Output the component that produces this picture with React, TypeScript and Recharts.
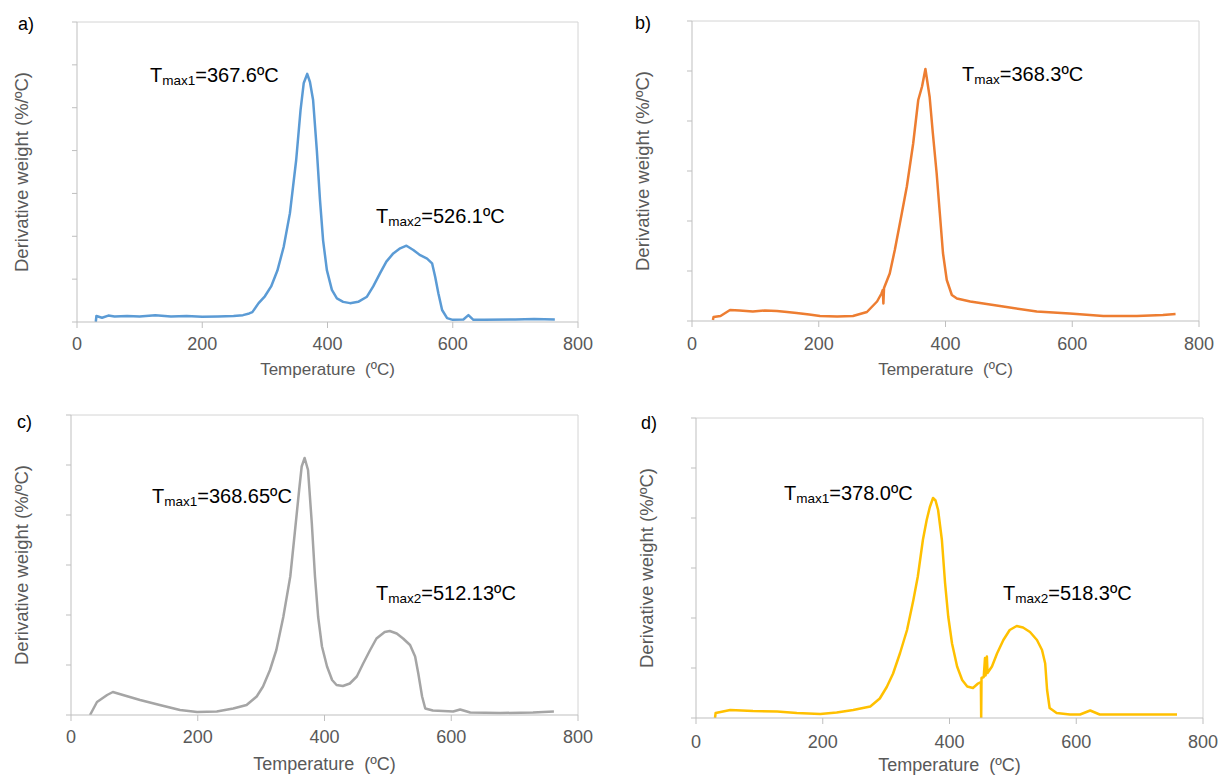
import React from 'react';
import { LineChart, Line, XAxis, YAxis, ReferenceLine } from 'recharts';

const FONT = '"Liberation Sans", Arial, Helvetica, sans-serif';
const AX = '#bfbfbf';
const BORDER = '#d4d4d4';
const TXT = '#595959';

const xTicks = [0, 200, 400, 600, 800];
const xTitle = 'Temperature\u00A0 (ºC)';
const yTitle = 'Derivative weight (%/ºC)';

// a) blue
const aTemp = [30, 31, 40, 50, 60, 80, 100, 125, 150, 175, 200, 225, 250, 265, 275, 280, 290, 300, 310, 320, 330, 340, 350, 357, 362, 367.6, 372, 377, 383, 388, 393, 399, 407, 415, 425, 436, 449, 463, 473, 484, 494, 505, 516, 526.1, 537, 548, 559, 567, 572, 577, 583, 591, 600, 617, 625, 633, 650, 700, 730, 763];
const aDeriv = [0, 0.14, 0.1, 0.15, 0.13, 0.14, 0.13, 0.16, 0.13, 0.14, 0.12, 0.13, 0.14, 0.16, 0.2, 0.23, 0.44, 0.6, 0.83, 1.2, 1.75, 2.54, 3.78, 4.95, 5.57, 5.79, 5.6, 5.18, 4.0, 2.85, 1.9, 1.21, 0.75, 0.55, 0.47, 0.44, 0.47, 0.59, 0.83, 1.14, 1.41, 1.6, 1.72, 1.78, 1.68, 1.56, 1.48, 1.37, 1.05, 0.67, 0.28, 0.09, 0.05, 0.06, 0.16, 0.05, 0.05, 0.06, 0.07, 0.06];

// b) orange
const bTemp = [33, 34, 45, 60, 75, 96, 115, 134, 150, 165, 185, 202, 229, 254, 276, 292, 299, 301, 302, 303, 312, 320, 331, 339, 349, 357, 363, 368.3, 375, 380, 386, 391, 396, 402, 410, 418, 439, 491, 544, 596, 649, 702, 743, 763];
const bDeriv = [0.02, 0.08, 0.1, 0.22, 0.21, 0.19, 0.21, 0.2, 0.18, 0.16, 0.13, 0.1, 0.09, 0.1, 0.18, 0.39, 0.55, 0.62, 0.35, 0.66, 0.95, 1.42, 2.15, 2.69, 3.55, 4.42, 4.69, 5.04, 4.48, 3.76, 2.96, 2.16, 1.36, 0.82, 0.52, 0.45, 0.39, 0.29, 0.19, 0.15, 0.1, 0.1, 0.12, 0.14];

// c) grey
const cTemp = [30, 41, 57, 66, 82, 109, 140, 172, 199, 230, 256, 277, 293, 303, 314, 324, 335, 346, 353, 360, 364, 368.65, 374, 380, 385, 390, 396, 404, 412, 419, 429, 440, 451, 461, 472, 482, 495, 503, 514, 524, 535, 543, 548, 554, 559, 571, 603, 614, 630, 677, 729, 762];
const cDeriv = [0, 0.26, 0.4, 0.46, 0.4, 0.3, 0.2, 0.1, 0.06, 0.07, 0.13, 0.2, 0.37, 0.57, 0.9, 1.3, 1.96, 2.77, 3.63, 4.5, 4.97, 5.14, 4.9, 3.83, 2.77, 1.96, 1.37, 0.97, 0.7, 0.6, 0.58, 0.63, 0.77, 1.03, 1.3, 1.53, 1.66, 1.68, 1.63, 1.53, 1.4, 1.17, 0.83, 0.37, 0.13, 0.09, 0.07, 0.11, 0.05, 0.04, 0.05, 0.07];

// d) gold
const dTemp = [30, 31, 54, 90, 128, 159, 196, 222, 248, 275, 290, 301, 311, 322, 333, 343, 350, 358, 364, 369, 374, 378, 382, 388, 393, 398, 404, 412, 420, 428, 437, 445, 449.5, 450, 450.5, 454, 456, 457, 459, 460, 467, 475, 485, 495, 506, 516, 527, 538, 546, 551, 554, 558, 569, 590, 606, 622, 637, 669, 721, 759];
const dDeriv = [0, 0.1, 0.16, 0.14, 0.13, 0.1, 0.08, 0.11, 0.16, 0.23, 0.39, 0.62, 0.89, 1.3, 1.76, 2.36, 2.83, 3.56, 3.96, 4.22, 4.4, 4.35, 4.16, 3.56, 2.7, 2.03, 1.49, 1.03, 0.76, 0.63, 0.6, 0.69, 0.72, 0, 0.8, 0.82, 1.2, 0.85, 1.23, 0.9, 1.03, 1.29, 1.56, 1.76, 1.84, 1.81, 1.72, 1.56, 1.36, 1.09, 0.56, 0.2, 0.1, 0.07, 0.07, 0.15, 0.07, 0.07, 0.07, 0.07];

const yTicks7 = [0, 1, 2, 3, 4, 5, 6, 7];
const yTicks6 = [0, 1, 2, 3, 4, 5, 6];

type PanelCfg = {
  left: number; top: number; width: number; height: number;
  x0: number; y0: number; x1: number; y1: number;
  yMax: number; yTicks: number[];
  color: string; temps: number[]; values: number[];
  tickMargin: number; xLabelOffset: number; yLabelOffset: number; xTitleSize: number;
};

const Y_W = 60;
const X_H = 56;

function Panel({ cfg }: { cfg: PanelCfg }) {
  const { left, top, width, height, x0, y0, x1, y1, yMax, yTicks, color, temps, values, tickMargin, xLabelOffset, yLabelOffset, xTitleSize } = cfg;
  const data = temps.map((t, i) => ({ t, v: values[i] }));
  const margin = {
    top: y0 - top,
    left: x0 - left - Y_W,
    right: left + width - x1,
    bottom: top + height - y1 - X_H,
  };
  return (
    <div style={{ position: 'absolute', left, top, width, height }}>
      <LineChart width={width} height={height} data={data} margin={margin}>
        <XAxis
          dataKey="t"
          type="number"
          domain={[0, 800]}
          ticks={xTicks}
          height={X_H}
          tickSize={6}
          tickMargin={tickMargin}
          axisLine={{ stroke: AX, strokeWidth: 1 }}
          tickLine={{ stroke: AX }}
          tick={{ fill: TXT, fontSize: 18, fontFamily: FONT }}
          allowDataOverflow
          label={{ value: xTitle, position: 'insideBottom', offset: xLabelOffset, fill: TXT, fontSize: xTitleSize, fontFamily: FONT }}
        />
        <YAxis
          type="number"
          domain={[0, yMax]}
          ticks={yTicks}
          width={Y_W}
          tickSize={5}
          tickFormatter={() => ''}
          axisLine={{ stroke: AX, strokeWidth: 1 }}
          tickLine={{ stroke: AX }}
          allowDataOverflow
          label={{ value: yTitle, angle: -90, position: 'insideLeft', offset: yLabelOffset, fill: TXT, fontSize: 18.5, fontFamily: FONT, style: { textAnchor: 'middle' } }}
        />
        <ReferenceLine y={yMax} stroke={BORDER} strokeWidth={1} ifOverflow="extendDomain" />
        <ReferenceLine x={800} stroke={BORDER} strokeWidth={1} ifOverflow="extendDomain" />
        <Line type="linear" dataKey="v" stroke={color} strokeWidth={2.5} strokeLinejoin="round" dot={false} isAnimationActive={false} />
      </LineChart>
    </div>
  );
}

const panels: PanelCfg[] = [
  { left: 0, top: 0, width: 612, height: 388, x0: 77, y0: 22, x1: 578, y1: 322, yMax: 7, yTicks: yTicks7, color: '#5B9BD5', temps: aTemp, values: aDeriv, tickMargin: 9, xLabelOffset: 3, yLabelOffset: 4, xTitleSize: 17 },
  { left: 612, top: 0, width: 613, height: 388, x0: 692, y0: 21, x1: 1199, y1: 321, yMax: 6, yTicks: yTicks6, color: '#ED7D31', temps: bTemp, values: bDeriv, tickMargin: 10, xLabelOffset: 2, yLabelOffset: 10, xTitleSize: 17 },
  { left: 0, top: 388, width: 612, height: 388, x0: 71, y0: 415, x1: 578, y1: 715, yMax: 6, yTicks: yTicks6, color: '#A5A5A5', temps: cTemp, values: cDeriv, tickMargin: 9, xLabelOffset: 1, yLabelOffset: 10, xTitleSize: 18 },
  { left: 612, top: 388, width: 613, height: 388, x0: 696, y0: 418, x1: 1203, y1: 718, yMax: 6, yTicks: yTicks6, color: '#FFC000', temps: dTemp, values: dDeriv, tickMargin: 11, xLabelOffset: 3, yLabelOffset: 10, xTitleSize: 18 },
];

const letters = [
  { t: 'a)', x: 18, y: 30 },
  { t: 'b)', x: 635, y: 29 },
  { t: 'c)', x: 17, y: 428 },
  { t: 'd)', x: 641, y: 429 },
];

const notes = [
  { sub: 'max1', val: '=367.6ºC', x: 150, y: 82 },
  { sub: 'max2', val: '=526.1ºC', x: 376, y: 223 },
  { sub: 'max', val: '=368.3ºC', x: 962, y: 81 },
  { sub: 'max1', val: '=368.65ºC', x: 152, y: 503 },
  { sub: 'max2', val: '=512.13ºC', x: 376, y: 600 },
  { sub: 'max1', val: '=378.0ºC', x: 784, y: 500 },
  { sub: 'max2', val: '=518.3ºC', x: 1003, y: 600 },
];

export default function App() {
  return (
    <div style={{ position: 'absolute', left: 0, top: 0, width: 1225, height: 776, background: '#fff', overflow: 'hidden' }}>
      {panels.map((p, i) => (
        <Panel key={i} cfg={p} />
      ))}
      <svg width={1225} height={776} style={{ position: 'absolute', left: 0, top: 0, pointerEvents: 'none' }}>
        {letters.map((l, i) => (
          <text key={i} x={l.x} y={l.y} fontSize={18} fontFamily={FONT} fill="#000">{l.t}</text>
        ))}
        {notes.map((n, i) => (
          <text key={i} x={n.x} y={n.y} fontSize={20} fontFamily={FONT} fill="#000">
            T<tspan fontSize={13.5} dy={3}>{n.sub}</tspan><tspan fontSize={20} dy={-3}>{n.val}</tspan>
          </text>
        ))}
      </svg>
    </div>
  );
}
